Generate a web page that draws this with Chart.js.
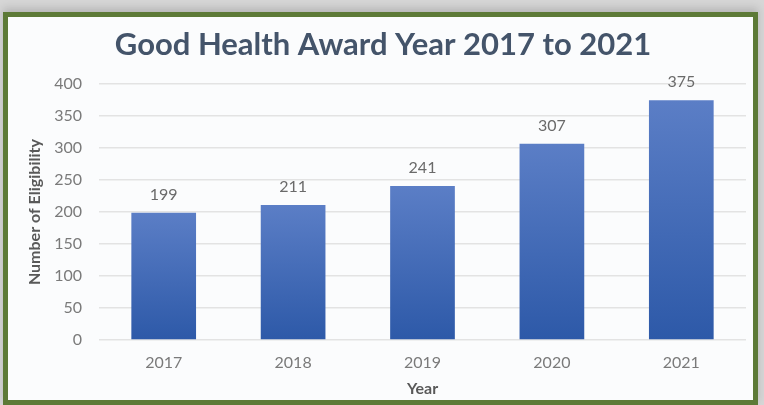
<!DOCTYPE html>
<html>
<head>
<meta charset="utf-8">
<script src="https://cdn.jsdelivr.net/npm/chart.js@4"></script>
<style>
  html, body { margin: 0; padding: 0; }
  body { width: 764px; height: 405px; background: #d6d6d6; position: relative; overflow: hidden; }
  #frame { position: absolute; left: 3px; top: 12px; width: 745px; height: 383px;
           border: 5px solid #5d7a37; background: #fbfcfd; box-shadow: 0 -4px 8px rgba(0,0,0,0.15); }
  #wrap { position: absolute; left: 0; top: 0; width: 764px; height: 405px; }
</style>
</head>
<body>
<div id="frame"></div>
<div id="wrap"><canvas id="chart" width="764" height="405"></canvas></div>
<script>
// chart data
var years = ['2017', '2018', '2019', '2020', '2021'];
var eligible = [199, 211, 241, 307, 375];
var yMin = 0;
var yMax = 400;
var yStep = 50;

var FONT = 'Lato, "Open Sans", sans-serif';

// per bar gradient, light at top, darker at the base
function barFill(context) {
  var chart = context.chart;
  var area = chart.chartArea;
  if (!area) return '#4472c4';
  var yScale = chart.scales.y;
  var top = yScale.getPixelForValue(context.raw);
  var bottom = yScale.getPixelForValue(0);
  var g = chart.ctx.createLinearGradient(0, top, 0, bottom);
  g.addColorStop(0, '#5b7ec6');
  g.addColorStop(1, '#2d59a8');
  return g;
}

// value labels above each bar
var valueLabels = {
  id: 'valueLabels',
  afterDatasetsDraw: function(chart) {
    var ctx = chart.ctx;
    var meta = chart.getDatasetMeta(0);
    ctx.save();
    ctx.font = '16px ' + FONT;
    ctx.fillStyle = '#6a6a6a';
    ctx.textAlign = 'center';
    ctx.textBaseline = 'middle';
    meta.data.forEach(function(bar, i) {
      ctx.fillText(eligible[i], bar.x, bar.y - 18);
    });
    ctx.restore();
  }
};

new Chart(document.getElementById('chart'), {
  type: 'bar',
  data: {
    labels: years,
    datasets: [{
      label: 'Number of Eligibility',
      data: eligible,
      backgroundColor: barFill,
      borderWidth: 0,
      categoryPercentage: 1.0,
      barPercentage: 0.5
    }]
  },
  plugins: [valueLabels],
  options: {
    responsive: false,
    animation: false,
    devicePixelRatio: 1,
    layout: { padding: { left: 20, right: 18, top: 20, bottom: 5 } },
    plugins: {
      legend: { display: false },
      tooltip: { enabled: false },
      title: {
        display: true,
        text: 'Good Health Award Year 2017 to 2021',
        color: '#44546a',
        font: { family: FONT, size: 31, weight: 'bold' },
        padding: { top: 6, bottom: 21 }
      }
    },
    scales: {
      x: {
        grid: { display: false, drawTicks: false },
        border: { display: false },
        ticks: { color: '#7a7a7a', font: { family: FONT, size: 16 }, padding: 13 },
        title: {
          display: true, text: 'Year', color: '#595959',
          font: { family: FONT, size: 16, weight: 'bold' },
          padding: { top: 6, bottom: 2 }
        },
        afterFit: function(scale) { scale.height = 60; }
      },
      y: {
        min: yMin,
        max: yMax,
        ticks: { stepSize: yStep, color: '#7a7a7a', font: { family: FONT, size: 16 }, padding: 17 },
        grid: { color: '#e3e3e3', lineWidth: 1.5, drawTicks: false },
        border: { display: false },
        title: {
          display: true, text: 'Number of Eligibility', color: '#595959',
          font: { family: FONT, size: 16, weight: 'bold' },
          padding: { top: 5, bottom: 0 }
        },
        afterFit: function(scale) { scale.width = 79; }
      }
    }
  }
});
</script>
</body>
</html>
